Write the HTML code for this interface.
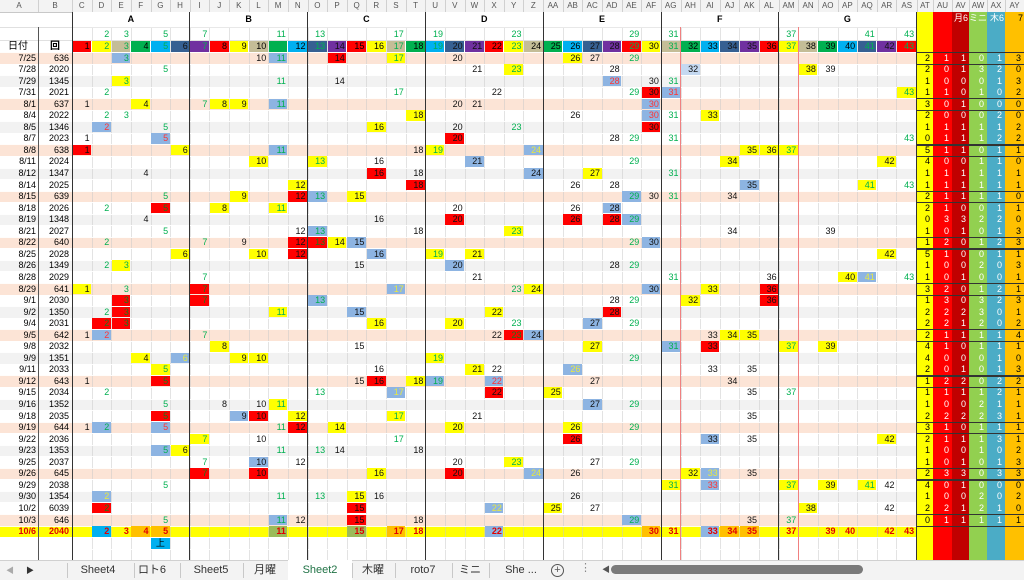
<!DOCTYPE html>
<html><head><meta charset="utf-8">
<style>
*{margin:0;padding:0;box-sizing:border-box}
body{width:1024px;height:580px;overflow:hidden;background:#fff;font-family:"Liberation Sans","Noto Sans CJK JP",sans-serif;position:relative}
.a{position:absolute}
.t{position:absolute;font-size:9px;line-height:11px;white-space:nowrap}
</style></head><body>
<div id="root"></div>
<script>
const X0=72,W=19.63,RH=11.55,Y0=52;
let h='';
function box(x,y,w,hh,bg,extra){h+=`<div class="a" style="left:${x}px;top:${y}px;width:${w}px;height:${hh}px;background:${bg};${extra||''}"></div>`;}
function txt(x,y,w,s,col,al,extra){h+=`<div class="t" style="left:${x}px;top:${y}px;width:${w}px;color:${col};text-align:${al||'right'};${extra||''}">${s}</div>`;}
const primes=[2,3,5,7,11,13,17,19,23,29,31,37,41,43];
const hc=['#ff0000','#ffff00','#c4bd97','#00b050','#00b0f0','#366092','#7030a0'];
const cx=n=>X0+(n-1)*W;
// column letter row
box(0,0,1024,12,'#f3f3f3');
const letters=['A','B'];
const L='CDEFGHIJKLMNOPQRSTUVWXYZ';
for(const c of L)letters.push(c);
for(const c of 'ABCDEFGHIJKLMNOPQRSTUVWXY')letters.push('A'+c);
let colX=[0,38];for(let i=0;i<43;i++)colX.push(cx(i+1));
const rx=[917,933,952,969,987,1005,1024];
for(let i=0;i<6;i++)colX.push(rx[i]);
colX.push(1024);
for(let i=0;i<letters.length&&i<colX.length-1;i++){txt(colX[i],1,colX[i+1]-colX[i],letters[i],'#555','center','font-size:8px;line-height:10px');
 h+=`<div class="a" style="left:${colX[i+1]}px;top:0;width:1px;height:12px;background:#d0d0d0"></div>`;}
box(0,12,1024,1,'#c8c8c8');
// row backgrounds
const rows=[
['7/25','636','p',[[3,'b'],[10],[11,'b'],[14,'r'],[17,'y'],[20],[26,'y'],[27],[29]],[2,1,1,0,1,3]],
['7/28','2020','w',[[5],[21],[23,'y'],[28],[32,'l'],[38,'y'],[39]],[2,0,1,3,2,0]],
['7/29','1345','g',[[3,'y'],[11],[14],[28,'b','r'],[30],[31]],[1,0,0,0,1,3]],
['7/31','2021','w',[[2],[17],[22],[29],[30,'r'],[31,'b','r'],[43,'y']],[1,1,0,1,0,2]],
['8/1','637','p',[[1],[4,'y'],[7],[8,'y'],[9,'y'],[11,'b'],[20],[21],[30,'b','r']],[3,0,1,0,0,0]],
['8/4','2022','w',[[2],[3],[18,'y'],[26],[30,'b','r'],[31],[33,'y']],[2,0,0,0,2,0]],
['8/5','1346','g',[[2,'b','r'],[5],[16,'y'],[20],[23],[30,'r']],[1,1,1,1,1,2]],
['8/7','2023','w',[[1],[5,'b','r'],[20,'r'],[28],[29],[31],[43]],[0,1,1,1,2,2]],
['8/8','638','p',[[1,'r'],[6,'y'],[11,'b'],[18],[19,'y'],[24,'b','yy'],[35,'y'],[36,'y'],[37,'y']],[5,1,1,0,1,1]],
['8/11','2024','w',[[10,'y'],[13,'y'],[16],[21,'b'],[29],[34,'y'],[42,'y']],[4,0,0,1,1,0]],
['8/12','1347','g',[[4],[16,'r'],[18],[24,'b'],[27,'y'],[31]],[1,1,1,1,1,1]],
['8/14','2025','w',[[12,'y'],[18,'r'],[26],[28],[35,'b'],[41,'y'],[43]],[1,1,1,1,1,1]],
['8/15','639','p',[[5],[9,'y'],[12,'r'],[13,'b'],[15,'y'],[29,'b'],[30],[31],[34]],[2,1,1,1,1,0]],
['8/18','2026','w',[[2],[5,'r'],[8,'y'],[11,'y'],[20],[26],[28,'b']],[2,1,0,0,1,1]],
['8/19','1348','g',[[4],[16],[20,'r'],[26,'r'],[28,'r'],[29,'b']],[0,3,3,2,2,0]],
['8/21','2027','w',[[5],[12],[13,'b'],[18],[23,'y'],[34],[39]],[1,0,1,0,1,3]],
['8/22','640','p',[[2],[7],[9],[12,'r'],[13,'r'],[14,'y'],[15,'b'],[29],[30,'b']],[1,2,0,1,2,3]],
['8/25','2028','w',[[6,'y'],[10,'y'],[12,'r'],[16,'b'],[19,'y'],[21,'y'],[42,'y']],[5,1,0,0,1,1]],
['8/26','1349','g',[[2],[3,'y'],[15],[20,'b'],[28],[29]],[1,0,0,2,0,3]],
['8/28','2029','w',[[7],[21],[31],[36],[40,'y'],[41,'b','yy'],[43]],[1,0,1,0,0,1]],
['8/29','641','p',[[1,'y'],[3],[7,'r'],[17,'b','yy'],[23],[24,'y'],[30,'b'],[33,'y'],[36,'r']],[3,2,0,1,2,1]],
['9/1','2030','w',[[3,'r'],[7,'r'],[13,'b'],[28],[29],[32,'y'],[36,'r']],[1,3,0,3,2,3]],
['9/2','1350','g',[[2],[3,'r'],[11,'y'],[15,'b'],[22,'y'],[28,'r']],[2,2,2,3,0,1]],
['9/4','2031','w',[[2,'r'],[3,'r'],[16,'y'],[20,'y'],[23],[27,'b'],[29]],[2,2,1,2,0,2]],
['9/5','642','p',[[1],[2,'b','r'],[7],[22],[23,'r'],[24,'b'],[33],[34,'y'],[35,'y']],[2,1,1,1,1,4]],
['9/8','2032','w',[[8,'y'],[15],[27,'y'],[31,'b'],[33,'r'],[37,'y'],[39,'y']],[4,1,0,1,1,1]],
['9/9','1351','g',[[4,'y'],[6,'b','yy'],[9,'y'],[10,'y'],[19,'y'],[29]],[4,0,0,0,1,0]],
['9/11','2033','w',[[5,'y'],[16],[21,'y'],[22],[26,'b','yy'],[33],[35]],[2,0,1,0,1,3]],
['9/12','643','p',[[1],[5,'r'],[15],[16,'r'],[18,'y'],[19,'b'],[22,'b','r'],[27],[34]],[1,2,2,0,2,2]],
['9/15','2034','w',[[2],[13],[17,'b','yy'],[22,'r'],[25,'y'],[35],[37]],[1,1,1,1,2,1]],
['9/16','1352','g',[[5],[8],[10],[11,'y'],[27,'b'],[29]],[1,0,0,2,1,1]],
['9/18','2035','w',[[5,'r'],[9,'b'],[10,'r'],[12,'y'],[17,'y'],[21],[35]],[2,2,2,2,3,1]],
['9/19','644','p',[[1],[2,'b'],[5,'b','r'],[11],[12,'r'],[14,'y'],[20,'y'],[26,'y'],[29]],[3,1,0,1,1,1]],
['9/22','2036','w',[[7,'y'],[10],[17],[26,'r'],[33,'b'],[35],[42,'y']],[2,1,1,1,3,1]],
['9/23','1353','g',[[5,'b'],[6,'y'],[11],[13],[14],[18]],[1,0,0,1,0,2]],
['9/25','2037','w',[[7],[10,'b'],[12],[20],[23,'y'],[27],[29]],[1,0,1,0,1,3]],
['9/26','645','p',[[7,'r'],[10,'r'],[16,'y'],[20,'r'],[24,'b','yy'],[26],[32,'y'],[33,'b','yy'],[35]],[2,3,3,0,3,3]],
['9/29','2038','w',[[5],[31,'y'],[33,'b','r'],[37,'y'],[39,'y'],[41,'y'],[42]],[4,0,1,0,0,0]],
['9/30','1354','g',[[2,'b','yy'],[11],[13],[15,'y'],[16],[26]],[1,0,0,2,0,2]],
['10/2','6039','w',[[2,'r'],[15,'r'],[22,'b','yy'],[25,'y'],[27],[38,'y'],[42]],[2,2,1,2,1,0]],
['10/3','646','p',[[5],[11,'b'],[12],[15,'r'],[18],[29,'b'],[35],[37]],[0,1,1,1,1,1]],
];
const bgs={p:'#fce4d6',w:'#ffffff',g:'#f2f2f2'};
const fill={b:'#8db4e2',y:'#ffff00',r:'#ff0000',l:'#c5d9f1'};
// header area rows
box(72,12,844,15,'#fff');
// grid vertical light lines for data area
for(let r=0;r<rows.length;r++){
 const y=Y0+r*RH;const R=rows[r];
 box(0,y,916,RH,bgs[R[2]]);
}
// last row 10/6
const yl=Y0+41*RH;
box(0,yl,916,RH,'#ffff00');
// light grid
for(let i=1;i<=43;i++){box(cx(i),27,1,533,'rgba(200,200,200,0.5)');}
box(38,27,1,533,'#d0d0d0');
for(let r=0;r<=45;r++){box(0,Y0+r*RH,916,1,'rgba(255,255,255,0.9)');}
box(0,27,916,1,'#e0e0e0');box(0,40,916,1,'#e0e0e0');
// header colored row
for(let n=1;n<=43;n++){
 box(cx(n)+0.5,40.5,W-1,11,hc[(n-1)%7]);
 const dark=[6,7].includes(((n-1)%7)+1);
 txt(cx(n),40.5,W-2,n,primes.includes(n)?'#00b050':(dark?'#111':'#000'));
 if(primes.includes(n))txt(cx(n),28.5,W-2,n,'#00b050');
}
txt(0,40.5,36,'日付','#000','center','font-size:10px');
txt(40,40.5,30,'回','#000','center','font-size:10px;font-weight:bold');
// group letters
const gl=['A','B','C','D','E','F','G'];
for(let g=0;g<7;g++){const x1=cx(g*6+1),x2=g==6?916:cx(g*6+7);txt(x1,14,x2-x1,gl[g],'#000','center','font-weight:bold;font-size:9px');}
box(72,26.5,844,1,'#e8e8e8');
// data
for(let r=0;r<rows.length;r++){
 const y=Y0+r*RH;const R=rows[r];
 txt(0,y+0.5,36,R[0],'#000');
 txt(38,y+0.5,31,R[1],'#000');
 for(const c of R[3]){
  const n=c[0],s=c[1];
  if(s)box(cx(n)+0.5,y+0.5,W-1,RH-1,fill[s]);
  let col=primes.includes(n)?'#00b050':'#111';
  if(c[2]=='r')col='#ff3333';if(c[2]=='yy')col='#e8e840';
  if(s=='r'&&primes.includes(n))col='#1a7a1a';
  txt(cx(n),y+0.5,W-2,n,col);
 }
}
// last row
txt(0,yl+0.5,36,'10/6','#e00000','right','font-weight:bold');
txt(38,yl+0.5,31,'2040','#e00000','right','font-weight:bold');
const last=[[2,'#00b0f0'],[3],[4,'#ffc000'],[5,'#ffc000'],[11,'#9bbb59'],[15,'#9bbb59'],[17,'#ffc000'],[18],[22,'#8db4e2'],[30,'#ffc000'],[31],[33,'#8db4e2'],[34,'#ffc000'],[35,'#ffc000'],[37],[39],[40],[42],[43]];
for(const c of last){if(c[1])box(cx(c[0])+0.5,yl+0.5,W-1,RH-1,c[1]);txt(cx(c[0]),yl+0.5,W-2,c[0],'#e00000','right','font-weight:bold');}
box(cx(5)+0.5,yl+RH+0.5,W-1,RH,'#00b0f0');txt(cx(5),yl+RH+0.5,W,'上','#000','center');
// thick lines
for(const x of [72,189.8,307.6,425.4,543.2,661,778.8]){box(x-0.5,12,1.2,548,'#333');}
box(37.5,27,1,533,'#555');
for(const x of [680.5,798.3]){box(x-0.5,27,1.2,533,'#f08080');}
// right columns
const rc=['#ffff00','#ff0000','#c00000','#92d050','#4bacc6','#ffc000'];
for(let i=0;i<6;i++)box(rx[i],12,rx[i+1]-rx[i],548,rc[i]);
box(916,12,1,548,'#333');
const hdr=['','','月6','ミニ','木6','7'];
for(let i=0;i<6;i++)if(hdr[i])txt(rx[i],13,rx[i+1]-rx[i]-1,hdr[i],i==5?'#000':'#fff','right','font-size:9px');
for(let r=0;r<rows.length;r++){
 const y=Y0+r*RH;const v=rows[r][4];
 for(let i=0;i<6;i++)txt(rx[i],y+0.5,rx[i+1]-rx[i]-3,v[i],(i==0||i==5)?'#000':'#fff','right');
 if(rows[r][2]=='p'){box(917,y,107,1.3,'#333');box(917,y+RH,107,1.3,'#333');}
}
box(917,Y0,107,1.3,'#333');
// tab bar
box(0,560,1024,20,'#f3f3f3');box(0,560,1024,1,'#d0d0d0');
h+=`<div class="t" style="left:6px;top:565px;color:#aaa;font-size:8px">◀</div><div class="t" style="left:26px;top:565px;color:#333;font-size:8px">▶</div>`;
const seps=[67,134,180,243,288,352,395,452,489];
for(const s of seps)box(s,563,1,15,'#c8c8c8');
box(288,560,64,20,'#fff');box(288,578,64,2,'#fff');
const tabs=[['Sheet4',98],['ロト6',152],['Sheet5',211],['月曜',265],['Sheet2',320],['木曜',373],['roto7',423],['ミニ',470],['She ...',521]];
for(const t of tabs)txt(t[1]-30,564,60,t[0],t[0]=='Sheet2'?'#217346':'#333','center','font-size:11px;line-height:13px');
h+=`<div class="a" style="left:551px;top:564px;width:13px;height:13px;border:1px solid #555;border-radius:50%;font-size:11px;line-height:11px;text-align:center;color:#555">+</div>`;
txt(580,563,10,'⋮','#888','center','font-size:11px');
txt(601,564,10,'◀','#555','center','font-size:8px');
box(611,565,252,9,'#7a7a7a','border-radius:5px');
document.getElementById('root').innerHTML=h;
</script>
</body></html>
